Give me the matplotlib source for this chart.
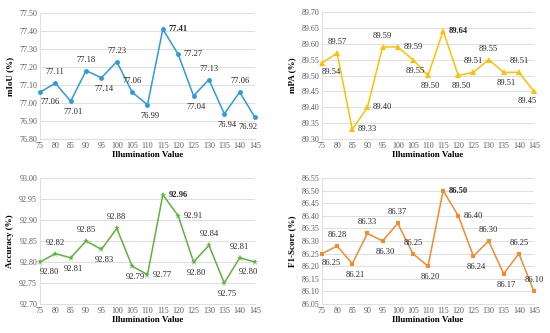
import matplotlib
matplotlib.use("Agg")
import matplotlib.pyplot as plt
import numpy as np

plt.rcParams['font.family'] = ['Liberation Serif', 'DejaVu Serif']

illum = [75, 80, 85, 90, 95, 100, 105, 110, 115, 120, 125, 130, 135, 140, 145]

miou = [77.06, 77.11, 77.01, 77.18, 77.14, 77.23, 77.06, 76.99, 77.41, 77.27, 77.04, 77.13, 76.94, 77.06, 76.92]
mpa = [89.54, 89.57, 89.33, 89.40, 89.59, 89.59, 89.55, 89.50, 89.64, 89.50, 89.51, 89.55, 89.51, 89.51, 89.45]
acc = [92.80, 92.82, 92.81, 92.85, 92.83, 92.88, 92.79, 92.77, 92.96, 92.91, 92.80, 92.84, 92.75, 92.81, 92.80]
f1 = [86.25, 86.28, 86.21, 86.33, 86.30, 86.37, 86.25, 86.20, 86.50, 86.40, 86.24, 86.30, 86.17, 86.25, 86.10]

# label placement codes: a=above, b=below, r=right, br=below-right, bl=below-left
pos_miou = ['br', 'a', 'b', 'a', 'b', 'a', 'a', 'b', 'r', 'r', 'b', 'a', 'b', 'a', 'bl']
pos_mpa = ['br', 'a', 'r', 'r', 'a', 'r', 'b', 'b', 'r', 'b', 'a', 'a', 'b', 'a', 'bl']
pos_acc = ['br', 'a', 'b', 'a', 'b', 'a', 'b', 'r', 'r', 'r', 'b', 'a', 'b', 'a', 'bl']
pos_f1 = ['br', 'a', 'b', 'a', 'b', 'a', 'a', 'b', 'r', 'r', 'b', 'a', 'b', 'a', 'a']

panels = [
    dict(vals=miou, pos=pos_miou, ylabel='mIoU (%)', ylim=(76.80, 77.50), step=0.10,
         color='#2E9BDA', marker='o', ms=3.5, rect=[40/550, 1-139/333, 215/550, 126/333]),
    dict(vals=mpa, pos=pos_mpa, ylabel='mPA (%)', ylim=(89.30, 89.70), step=0.05,
         color='#FFC000', marker='^', ms=4, rect=[322/550, 1-139/333, 212/550, 127/333]),
    dict(vals=acc, pos=pos_acc, ylabel='Accuracy (%)', ylim=(92.70, 93.00), step=0.05,
         color='#5DB33B', marker='*', ms=5, rect=[40/550, 1-304/333, 215/550, 126/333]),
    dict(vals=f1, pos=pos_f1, ylabel='F1-Score (%)', ylim=(86.05, 86.55), step=0.05,
         color='#F58A2E', marker='s', ms=3.5, rect=[322/550, 1-304/333, 212/550, 126/333]),
]

fig = plt.figure(figsize=(5.5, 3.33), dpi=100)

offsets = {'a': (0, 5, 'center', 'bottom'), 'b': (2, -5, 'center', 'top'),
           'br': (7, -4, 'center', 'top'), 'bl': (-5, -4, 'center', 'top'),
           'r': (4, 0, 'left', 'center'), 'l': (-4, 0, 'right', 'center')}

for p in panels:
    ax = fig.add_axes(p['rect'])
    ax.plot(illum, p['vals'], color=p['color'], lw=1.1, marker=p['marker'], ms=p['ms'],
            markeredgewidth=0, zorder=3, clip_on=False)
    ax.set_xlim(illum[0], illum[-1])
    lo, hi = p['ylim']
    ax.set_ylim(lo, hi)
    ticks = np.arange(lo, hi + p['step'] / 2, p['step'])
    ax.set_yticks(ticks)
    ax.set_yticklabels([f'{t:.2f}' for t in ticks])
    ax.set_xticks(illum)
    ax.grid(axis='y', color='#D9D9D9', lw=0.6)
    ax.set_axisbelow(True)
    for s in ['top', 'right']:
        ax.spines[s].set_visible(False)
    for s in ['left', 'bottom']:
        ax.spines[s].set_color('#D9D9D9')
        ax.spines[s].set_linewidth(0.6)
    ax.tick_params(length=0, labelsize=5.8, colors='#595959', pad=2)
    ax.set_ylabel(p['ylabel'], fontsize=6.5, fontweight='bold', labelpad=4)
    ax.set_xlabel('Illumination Value', fontsize=6.5, fontweight='bold', labelpad=1)
    imax = int(np.argmax(p['vals']))
    for i, (x, v) in enumerate(zip(illum, p['vals'])):
        dx, dy, ha, va = offsets[p['pos'][i]]
        ax.annotate(f'{v:.2f}', (x, v), xytext=(dx, dy), textcoords='offset points',
                    ha=ha, va=va, fontsize=6.1, color='#262626',
                    fontweight='bold' if i == imax else 'normal')

fig.savefig('out.png', dpi=100)
